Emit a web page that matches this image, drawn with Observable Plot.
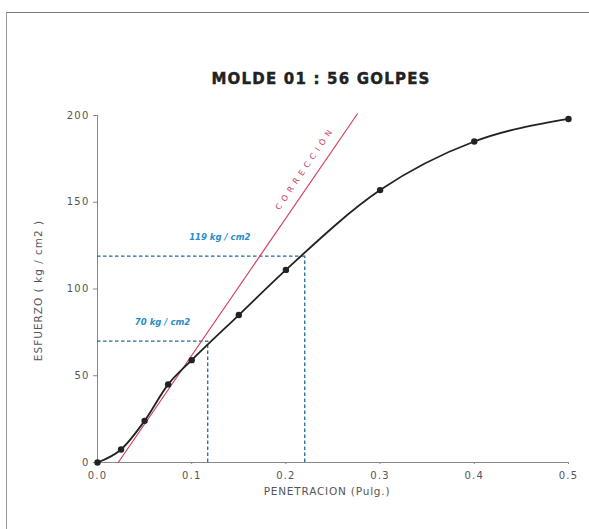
<!DOCTYPE html>
<html>
<head>
<meta charset="utf-8">
<script src="https://cdn.jsdelivr.net/npm/d3@7"></script>
<script src="https://cdn.jsdelivr.net/npm/@observablehq/plot@0.6"></script>
<style>
  html, body { margin: 0; padding: 0; background: #fff; }
  #wrap { position: relative; width: 589px; height: 529px; overflow: hidden; }
  #frame { position: absolute; left: 6px; top: 12px; width: 600px; height: 540px;
           border-top: 1.5px solid #777; border-left: 1px solid #999; pointer-events: none; }
  svg { display: block; }
</style>
</head>
<body>
<div id="wrap"><div id="frame"></div></div>
<script>
// ---- data ----
const title = "MOLDE 01 : 56 GOLPES";
const xLabel = "PENETRACION (Pulg.)";
const yLabel = "ESFUERZO ( kg / cm2 )";
const penetration = [0, 0.025, 0.05, 0.075, 0.1, 0.15, 0.2, 0.3, 0.4, 0.5];
const esfuerzo    = [0, 7.5, 24, 45, 59, 85, 111, 157, 185, 198];
const xTicks = [0, 0.1, 0.2, 0.3, 0.4, 0.5];
const yTicks = [0, 50, 100, 150, 200];
// correction line (two end points)
const corrX = [0.022, 0.276];
const corrY = [0, 201];
const corrLabel = "CORRECCIÓN";
// corrected values
const refX = [0.117, 0.22];
const refY = [70, 119];
const refLabels = ["70 kg / cm2", "119 kg / cm2"];

const pts = penetration.map((x, i) => ({x, y: esfuerzo[i]}));
const corr = corrX.map((x, i) => ({x, y: corrY[i]}));
const refs = refX.map((x, i) => ({x, y: refY[i], label: refLabels[i]}));

const font = "'DejaVu Sans', 'Liberation Sans', Arial, sans-serif";
const blue = "#1f6a96";

const chart = Plot.plot({
  width: 589,
  height: 529,
  marginLeft: 97,
  marginRight: 21,
  marginTop: 115,
  marginBottom: 67,
  style: {fontFamily: font, background: "transparent", overflow: "visible"},
  x: {domain: [0, 0.5]},
  y: {domain: [0, 200]},
  marks: [
    Plot.axisY({ticks: yTicks, tickSize: 4, tickPadding: 4, stroke: "#888", fill: "#555", fontSize: 10, label: null, className: "tk"}),
    Plot.axisX({ticks: xTicks, tickSize: 2, tickPadding: 7, stroke: "#888", fill: "#555", fontSize: 10, label: null, tickFormat: d3.format(".1f"), className: "tk"}),
    Plot.ruleX([0], {stroke: "#888", strokeWidth: 1}),
    Plot.ruleY([0], {stroke: "#888", strokeWidth: 1}),
    // dashed reference lines
    Plot.ruleY(refs, {y: "y", x1: 0, x2: "x", stroke: blue, strokeWidth: 1.3, strokeDasharray: "3.5,2.5"}),
    Plot.ruleX(refs, {x: "x", y1: 0, y2: "y", stroke: blue, strokeWidth: 1.3, strokeDasharray: "3.5,2.5"}),
    Plot.text(refs, {x: d => d.x * 0.59, y: "y", text: "label", dy: -19,
      fill: "#2a8dc8", fontSize: 8.5, fontWeight: "bold", fontStyle: "italic"}),
    // correction line
    Plot.line(corr, {x: "x", y: "y", stroke: "#d2425f", strokeWidth: 1.2}),
    Plot.text([corrLabel], {x: 0.2203, y: 169.7, text: d => d, rotate: -56,
      fill: "#c8385a", fontSize: 8, fontWeight: "normal", className: "corr"}),
    // data curve
    Plot.line(pts, {x: "x", y: "y", curve: "monotone-x", stroke: "#222", strokeWidth: 1.8}),
    Plot.dot(pts, {x: "x", y: "y", r: 3.2, fill: "#222", stroke: "none"}),
    // titles
    Plot.text([title], {text: d => d, frameAnchor: "top", dy: -42, dx: -12,
      fontSize: 15, fontWeight: "bold", fill: "#222", className: "ttl"}),
    Plot.text([xLabel], {text: d => d, frameAnchor: "bottom", dy: 32, dx: -6,
      fontSize: 10.5, fill: "#555", className: "xl"}),
    Plot.text([yLabel], {text: d => d, frameAnchor: "left", textAnchor: "middle", dx: -59, dy: 1.5, rotate: -90,
      fontSize: 10.5, fill: "#555", className: "yl"})
  ]
});
document.getElementById("wrap").prepend(chart);
const spacing = [["tk", 1.2], ["corr", 4.5], ["ttl", 1.2], ["xl", 0.8], ["yl", 1.0]];
// apply letter spacing by group class
chart.querySelectorAll("text").forEach(t => {
  const g = t.closest("g");
  const cls = (g && (g.getAttribute("class") || "")) + " " + ((g && g.parentNode && g.parentNode.getAttribute && g.parentNode.getAttribute("class")) || "");
  for (const [c, s] of spacing) {
    if (cls.split(/\s+/).includes(c)) { t.setAttribute("letter-spacing", s); break; }
  }
});
// stroke the title a little for a heavier look
chart.querySelectorAll("text").forEach(t => {
  if (t.textContent === title) { t.setAttribute("stroke", "#222"); t.setAttribute("stroke-width", "0.4"); }
});
</script>
</body>
</html>
